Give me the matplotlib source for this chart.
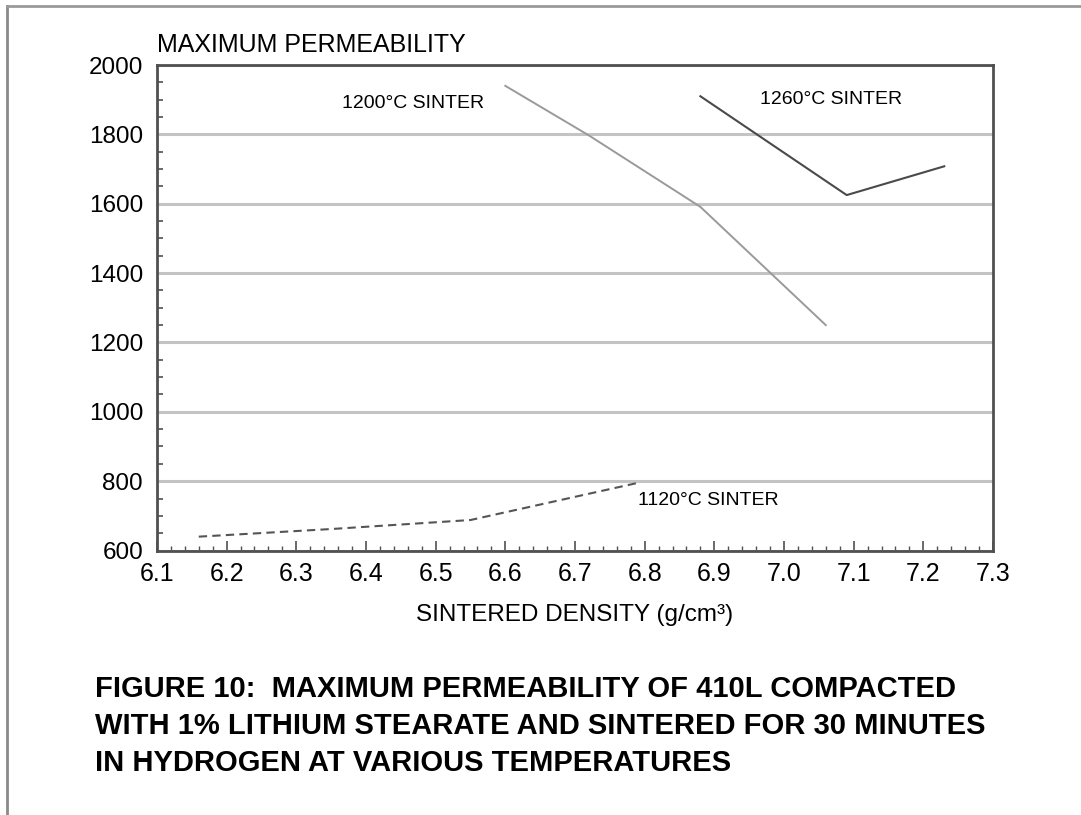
import matplotlib
matplotlib.use("Agg")
import matplotlib.pyplot as plt
from matplotlib.ticker import MultipleLocator
from matplotlib.lines import Line2D

# values
dens_1120 = [6.16, 6.35, 6.55, 6.79]
perm_1120 = [640, 662, 688, 795]

dens_1200 = [6.60, 6.72, 6.88, 7.06]
perm_1200 = [1940, 1797, 1591, 1250]

dens_1260 = [6.88, 7.09, 7.23]
perm_1260 = [1910, 1625, 1708]

xticks = [6.1, 6.2, 6.3, 6.4, 6.5, 6.6, 6.7, 6.8, 6.9, 7.0, 7.1, 7.2, 7.3]
yticks = [600, 800, 1000, 1200, 1400, 1600, 1800, 2000]

caption = ("FIGURE 10:  MAXIMUM PERMEABILITY OF 410L COMPACTED\n"
           "WITH 1% LITHIUM STEARATE AND SINTERED FOR 30 MINUTES\n"
           "IN HYDROGEN AT VARIOUS TEMPERATURES")

plt.rcParams['font.family'] = ['Liberation Sans', 'DejaVu Sans']

fig = plt.figure(figsize=(10.81, 8.15), dpi=100)
ax = fig.add_axes([0.1452, 0.3245, 0.7734, 0.5957])

ax.plot(dens_1200, perm_1200, color='#9a9a9a', lw=1.4)
ax.plot(dens_1260, perm_1260, color='#4a4a4a', lw=1.5)
ax.plot(dens_1120, perm_1120, color='#555555', lw=1.5, ls=(0, (4, 2.5)))

ax.set_xlim(6.1, 7.3)
ax.set_ylim(600, 2000)
ax.set_xticks(xticks)
ax.set_xticklabels(["%.1f" % v for v in xticks])
ax.set_yticks(yticks)
ax.xaxis.set_minor_locator(MultipleLocator(0.02))
ax.yaxis.set_minor_locator(MultipleLocator(50))

ax.grid(axis='y', which='major', color='#c4c4c4', lw=2.2)
ax.set_axisbelow(True)

for s in ax.spines.values():
    s.set_color('#505050')
    s.set_linewidth(2)

ax.tick_params(axis='both', which='both', direction='in', color='#505050')
ax.tick_params(axis='x', which='major', length=7, width=1.2, pad=8, labelsize=18)
ax.tick_params(axis='x', which='minor', length=3.5, width=1)
ax.tick_params(axis='y', which='major', length=0, pad=10, labelsize=17.5)
ax.tick_params(axis='y', which='minor', length=4, width=1.2)
ax.tick_params(axis='x', which='both', top=False)
ax.tick_params(axis='y', which='both', right=False)

ax.set_xlabel("SINTERED DENSITY (g/cm\u00b3)", fontsize=17.5, labelpad=13)

ax.text(6.366, 1890, "1200\u00b0C SINTER", fontsize=14, va='center')
ax.text(6.965, 1900, "1260\u00b0C SINTER", fontsize=14, va='center')
ax.text(6.79, 745, "1120\u00b0C SINTER", fontsize=14, va='center')

fig.text(157 / 1081, 1 - 45 / 815, "MAXIMUM PERMEABILITY", fontsize=18,
         va='center', ha='left')

fig.text(95 / 1081, 1 - 726 / 815, caption, fontsize=21, fontweight='bold',
         va='center', ha='left', linespacing=1.42)

# scanned page frame (left and top edges)
fig.add_artist(Line2D([7 / 1081, 7 / 1081], [0, 1 - 6 / 815],
                      transform=fig.transFigure, color='#8a8a8a', lw=2))
fig.add_artist(Line2D([7 / 1081, 1], [1 - 6 / 815, 1 - 6 / 815],
                      transform=fig.transFigure, color='#9a9a9a', lw=2))

fig.savefig("out.png", dpi=100)
